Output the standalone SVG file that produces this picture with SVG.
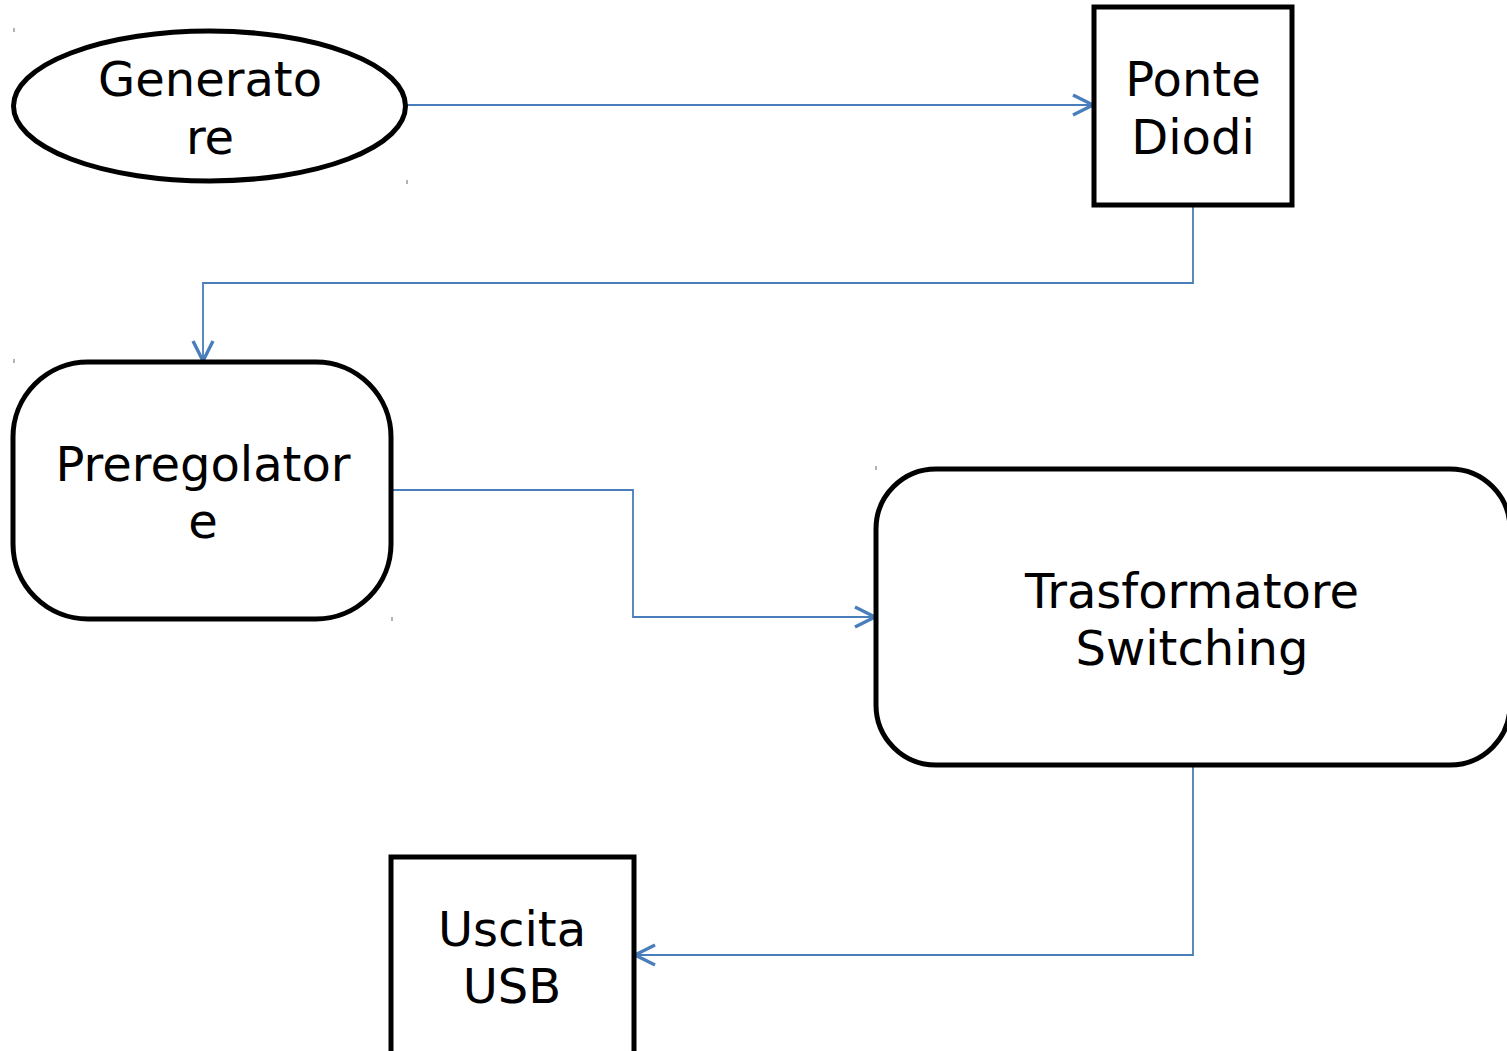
<svg xmlns="http://www.w3.org/2000/svg" width="1507" height="1051" viewBox="0 0 1507 1051">
  <style>
    .shape { fill: #ffffff; stroke: #000000; stroke-width: 5; }
    .label { font-family: "DejaVu Sans", "Liberation Sans", sans-serif; font-size: 48px; fill: #000000; text-anchor: middle; }
    .wire { fill: none; stroke: #4a7ebb; stroke-width: 1.8; }
    .tick { stroke: #808080; stroke-width: 1.2; }
  </style>
  <defs>
    <marker id="open-arrow" markerUnits="userSpaceOnUse" markerWidth="30" markerHeight="30" refX="22" refY="12" orient="auto">
      <path d="M2,2 L22,12 L2,22" fill="none" stroke="#4a7ebb" stroke-width="3.4"/>
    </marker>
  </defs>

  <rect width="1507" height="1051" fill="#ffffff"/>

  <!-- corner ticks of the shape frames -->
  <g id="ticks">
    <line class="tick" x1="14" y1="28" x2="14" y2="32"/>
    <line class="tick" x1="407" y1="180" x2="407" y2="184"/>
    <line class="tick" x1="14" y1="359" x2="14" y2="363"/>
    <line class="tick" x1="392" y1="617" x2="392" y2="621"/>
    <line class="tick" x1="876" y1="466" x2="876" y2="470"/>
  </g>

  <g id="connectors">
    <path class="wire" d="M407,105 H1093" marker-end="url(#open-arrow)"/>
    <path class="wire" d="M1193,205 V283 H203 V361" marker-end="url(#open-arrow)"/>
    <path class="wire" d="M392,490 H633 V617 H875" marker-end="url(#open-arrow)"/>
    <path class="wire" d="M1193,765 V955 H635" marker-end="url(#open-arrow)"/>
  </g>

  <g id="generatore">
    <ellipse class="shape" cx="209.5" cy="106" rx="196" ry="75"/>
    <text class="label" x="210" y="96">Generato</text>
    <text class="label" x="210" y="154">re</text>
  </g>

  <g id="ponte-diodi">
    <rect class="shape" x="1094" y="7" width="198" height="198"/>
    <text class="label" x="1193" y="96">Ponte</text>
    <text class="label" x="1193" y="154">Diodi</text>
  </g>

  <g id="preregolatore">
    <rect class="shape" x="13" y="362" width="378" height="257" rx="75" ry="75"/>
    <text class="label" x="203" y="481">Preregolator</text>
    <text class="label" x="203" y="538">e</text>
  </g>

  <g id="trasformatore">
    <rect class="shape" x="876" y="469" width="634" height="296" rx="60" ry="60"/>
    <text class="label" x="1192" y="608">Trasformatore</text>
    <text class="label" x="1192" y="665">Switching</text>
  </g>

  <g id="uscita-usb">
    <rect class="shape" x="391" y="857" width="243" height="220"/>
    <text class="label" x="512" y="946">Uscita</text>
    <text class="label" x="512" y="1003">USB</text>
  </g>
</svg>
